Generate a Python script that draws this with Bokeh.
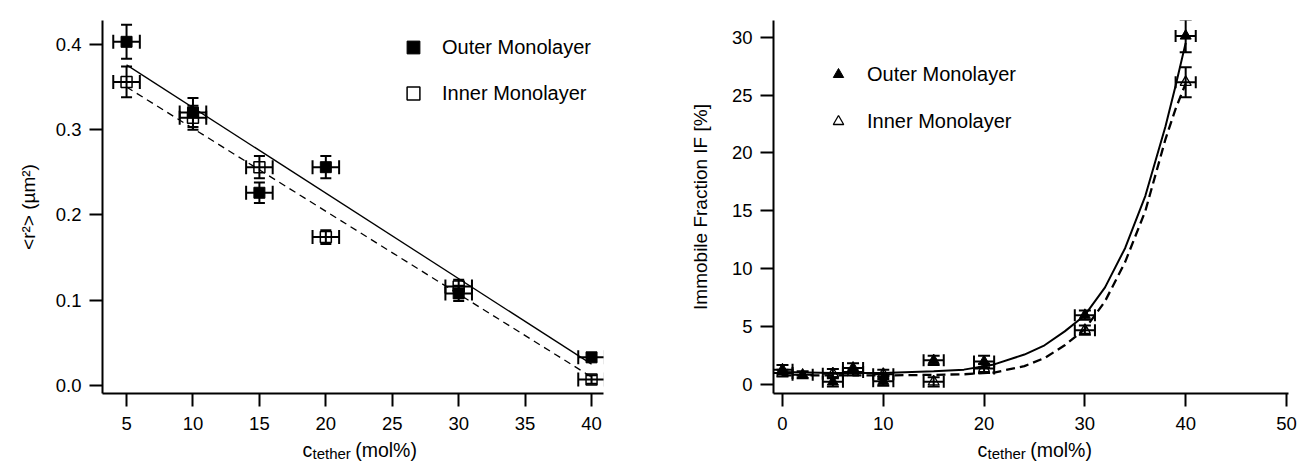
from bokeh.plotting import figure
from bokeh.models import (ColumnDataSource, Whisker, TeeHead, Legend, LegendItem,
                          FixedTicker, NumeralTickFormatter, Range1d, Label)
from bokeh.layouts import row
from bokeh.embed import file_html
from bokeh.resources import INLINE

# ---------------- data: left panel (<r^2>) ----------------
l_x = [5, 10, 15, 20, 30, 40]
l_xerr = [1.0, 1.0, 1.0, 1.0, 1.0, 1.0]
l_outer = [0.403, 0.320, 0.226, 0.256, 0.108, 0.033]
l_outer_err = [0.020, 0.017, 0.012, 0.013, 0.009, 0.005]
l_inner = [0.356, 0.314, 0.256, 0.174, 0.116, 0.007]
l_inner_err = [0.018, 0.014, 0.013, 0.008, 0.008, 0.005]
l_fit_x = [5, 40]
l_fit_outer = [0.376, 0.025]
l_fit_inner = [0.350, 0.010]
l_xticks = [5, 10, 15, 20, 25, 30, 35, 40]
l_yticks = [0.0, 0.1, 0.2, 0.3, 0.4]

# ---------------- data: right panel (immobile fraction) ----------------
r_outer_x = [0, 2, 5, 7, 10, 15, 20, 30, 40]
r_outer_xerr = [1.0, 1.0, 1.0, 1.0, 1.0, 1.0, 1.0, 1.0, 1.0]
r_outer = [1.3, 0.85, 0.25, 1.45, 0.3, 2.1, 2.0, 6.0, 30.1]
r_outer_err = [0.4, 0.3, 0.4, 0.4, 0.4, 0.4, 0.5, 0.4, 1.4]
r_inner_x = [0, 5, 7, 10, 15, 20, 30, 40]
r_inner_xerr = [1.0, 1.0, 1.0, 1.0, 1.0, 1.0, 1.0, 1.0]
r_inner = [1.0, 0.95, 1.1, 0.9, 0.25, 1.4, 4.7, 26.1]
r_inner_err = [0.3, 0.4, 0.3, 0.4, 0.4, 0.4, 0.4, 1.3]
r_fit_x = [0, 5, 10, 15, 18, 21, 24, 26, 28, 30, 32, 34, 36, 38, 39, 40]
r_fit_outer = [1.1, 1.0, 1.0, 1.15, 1.3, 1.75, 2.6, 3.4, 4.6, 6.0, 8.4, 11.8, 16.3, 22.3, 25.8, 29.5]
r_fit_inner = [0.8, 0.8, 0.8, 0.85, 0.9, 1.05, 1.6, 2.3, 3.4, 4.8, 7.2, 10.6, 15.0, 21.2, 23.8, 26.0]
r_xticks = [0, 10, 20, 30, 40, 50]
r_yticks = [0, 5, 10, 15, 20, 25, 30]

X_MAIN = "c\u2003\u2003\u2009(mol%)"
X_SUB = "tether"
FONT = "Liberation Sans"
H = 462


def src(xs, ys, xe, ye):
    return ColumnDataSource(dict(
        x=xs, y=ys,
        xl=[a - b for a, b in zip(xs, xe)], xu=[a + b for a, b in zip(xs, xe)],
        yl=[a - b for a, b in zip(ys, ye)], yu=[a + b for a, b in zip(ys, ye)],
    ))


def style(p):
    for ax in (p.xaxis[0], p.yaxis[0]):
        ax.axis_line_width = 2
        ax.axis_line_color = "black"
        ax.major_tick_line_width = 2
        ax.major_tick_line_color = "black"
        ax.major_tick_out = 13
        ax.major_tick_in = 0
        ax.minor_tick_line_color = None
        ax.major_label_text_font = FONT
        ax.major_label_text_font_size = "18.5px"
        ax.major_label_text_color = "black"
        ax.axis_label_text_font = FONT
        ax.axis_label_text_font_size = "19px"
        ax.axis_label_text_font_style = "normal"
        ax.axis_label_text_color = "black"
    p.xaxis[0].major_label_standoff = 10
    p.yaxis[0].major_label_standoff = 8
    p.grid.visible = False
    p.outline_line_color = None
    p.background_fill_color = "white"
    p.border_fill_color = "white"


def xlabel(p, x0, sub_side):
    kw = dict(x_units="canvas", y_units="canvas", text_font=FONT, text_color="black",
              text_baseline="middle", text_align="left")
    p.add_layout(Label(x=x0, y=449, text=X_MAIN, text_font_size="19.5px", **kw), "below")
    p.add_layout(Label(x=x0 + 10, y=453, text=X_SUB, text_font_size="15px", **kw), sub_side)


def errbars(p, s, ysize, xsize, lw):
    p.add_layout(Whisker(source=s, base="x", lower="yl", upper="yu", dimension="height",
                         line_width=lw, line_color="black",
                         upper_head=TeeHead(size=ysize, line_width=lw, line_color="black"),
                         lower_head=TeeHead(size=ysize, line_width=lw, line_color="black")))
    p.add_layout(Whisker(source=s, base="y", lower="xl", upper="xu", dimension="width",
                         line_width=lw, line_color="black",
                         upper_head=TeeHead(size=xsize, line_width=lw, line_color="black"),
                         lower_head=TeeHead(size=xsize, line_width=lw, line_color="black")))


# ---------------- left figure ----------------
p1 = figure(width=648, height=H, x_range=Range1d(3.19, 40.9), y_range=Range1d(-0.0094, 0.428),
            output_backend="svg", toolbar_location=None, title=None,
            min_border_left=102, min_border_right=45, min_border_top=20, min_border_bottom=69)
style(p1)
p1.xaxis[0].ticker = FixedTicker(ticks=l_xticks)
p1.yaxis[0].ticker = FixedTicker(ticks=l_yticks)
p1.yaxis[0].formatter = NumeralTickFormatter(format="0.0")
p1.yaxis[0].axis_label = "<r²> (µm²)"
p1.yaxis[0].axis_label_standoff = 14

p1.line(l_fit_x, l_fit_outer, line_color="black", line_width=1.3)
p1.line(l_fit_x, l_fit_inner, line_color="black", line_width=1.3, line_dash="7 5")

s_lo = src(l_x, l_outer, l_xerr, l_outer_err)
s_li = src(l_x, l_inner, l_xerr, l_inner_err)
r_lo = p1.scatter("x", "y", source=s_lo, marker="square", size=11,
                  fill_color="black", line_color="black")
r_li = p1.scatter("x", "y", source=s_li, marker="square", size=11,
                  fill_color=None, line_color="black", line_width=1.5)
errbars(p1, s_lo, 11, 14, 2)
errbars(p1, s_li, 11, 14, 2)

leg1 = Legend(items=[LegendItem(label="Outer Monolayer", renderers=[r_lo]),
                     LegendItem(label="Inner Monolayer", renderers=[r_li])],
              location=(295, 284), glyph_width=32, glyph_height=32, label_height=32,
              label_standoff=13, spacing=14, padding=0, margin=0,
              border_line_color=None, background_fill_alpha=0,
              label_text_font=FONT, label_text_font_size="20px", label_text_color="black")
p1.add_layout(leg1)
xlabel(p1, 302, "right")

# ---------------- right figure ----------------
p2 = figure(width=652, height=H, x_range=Range1d(-0.89, 50.2), y_range=Range1d(-0.76, 31.43),
            output_backend="svg", toolbar_location=None, title=None,
            min_border_left=125, min_border_right=12, min_border_top=12, min_border_bottom=68)
style(p2)
p2.xaxis[0].ticker = FixedTicker(ticks=r_xticks)
p2.yaxis[0].ticker = FixedTicker(ticks=r_yticks)
p2.yaxis[0].axis_label = "Immobile Fraction IF [%]"
p2.yaxis[0].axis_label_standoff = 18

p2.line(r_fit_x, r_fit_outer, line_color="black", line_width=2)
p2.line(r_fit_x, r_fit_inner, line_color="black", line_width=2.3, line_dash="9 5")

s_ro = src(r_outer_x, r_outer, r_outer_xerr, r_outer_err)
s_ri = src(r_inner_x, r_inner, r_inner_xerr, r_inner_err)
r_ro = p2.scatter("x", "y", source=s_ro, marker="triangle", size=11,
                  fill_color="black", line_color="black")
r_ri = p2.scatter("x", "y", source=s_ri, marker="triangle", size=11,
                  fill_color=None, line_color="black", line_width=1.3)
errbars(p2, s_ro, 12, 12, 2)
errbars(p2, s_ri, 12, 12, 2)

leg2 = Legend(items=[LegendItem(label="Outer Monolayer", renderers=[r_ro]),
                     LegendItem(label="Inner Monolayer", renderers=[r_ri])],
              location=(52, 259), glyph_width=26, glyph_height=26, label_height=26,
              label_standoff=16, spacing=21, padding=0, margin=0,
              border_line_color=None, background_fill_alpha=0,
              label_text_font=FONT, label_text_font_size="20px", label_text_color="black")
p2.add_layout(leg2)
xlabel(p2, 329, "left")

layout = row(p1, p2)
open("out.html", "w").write(file_html(layout, INLINE))
